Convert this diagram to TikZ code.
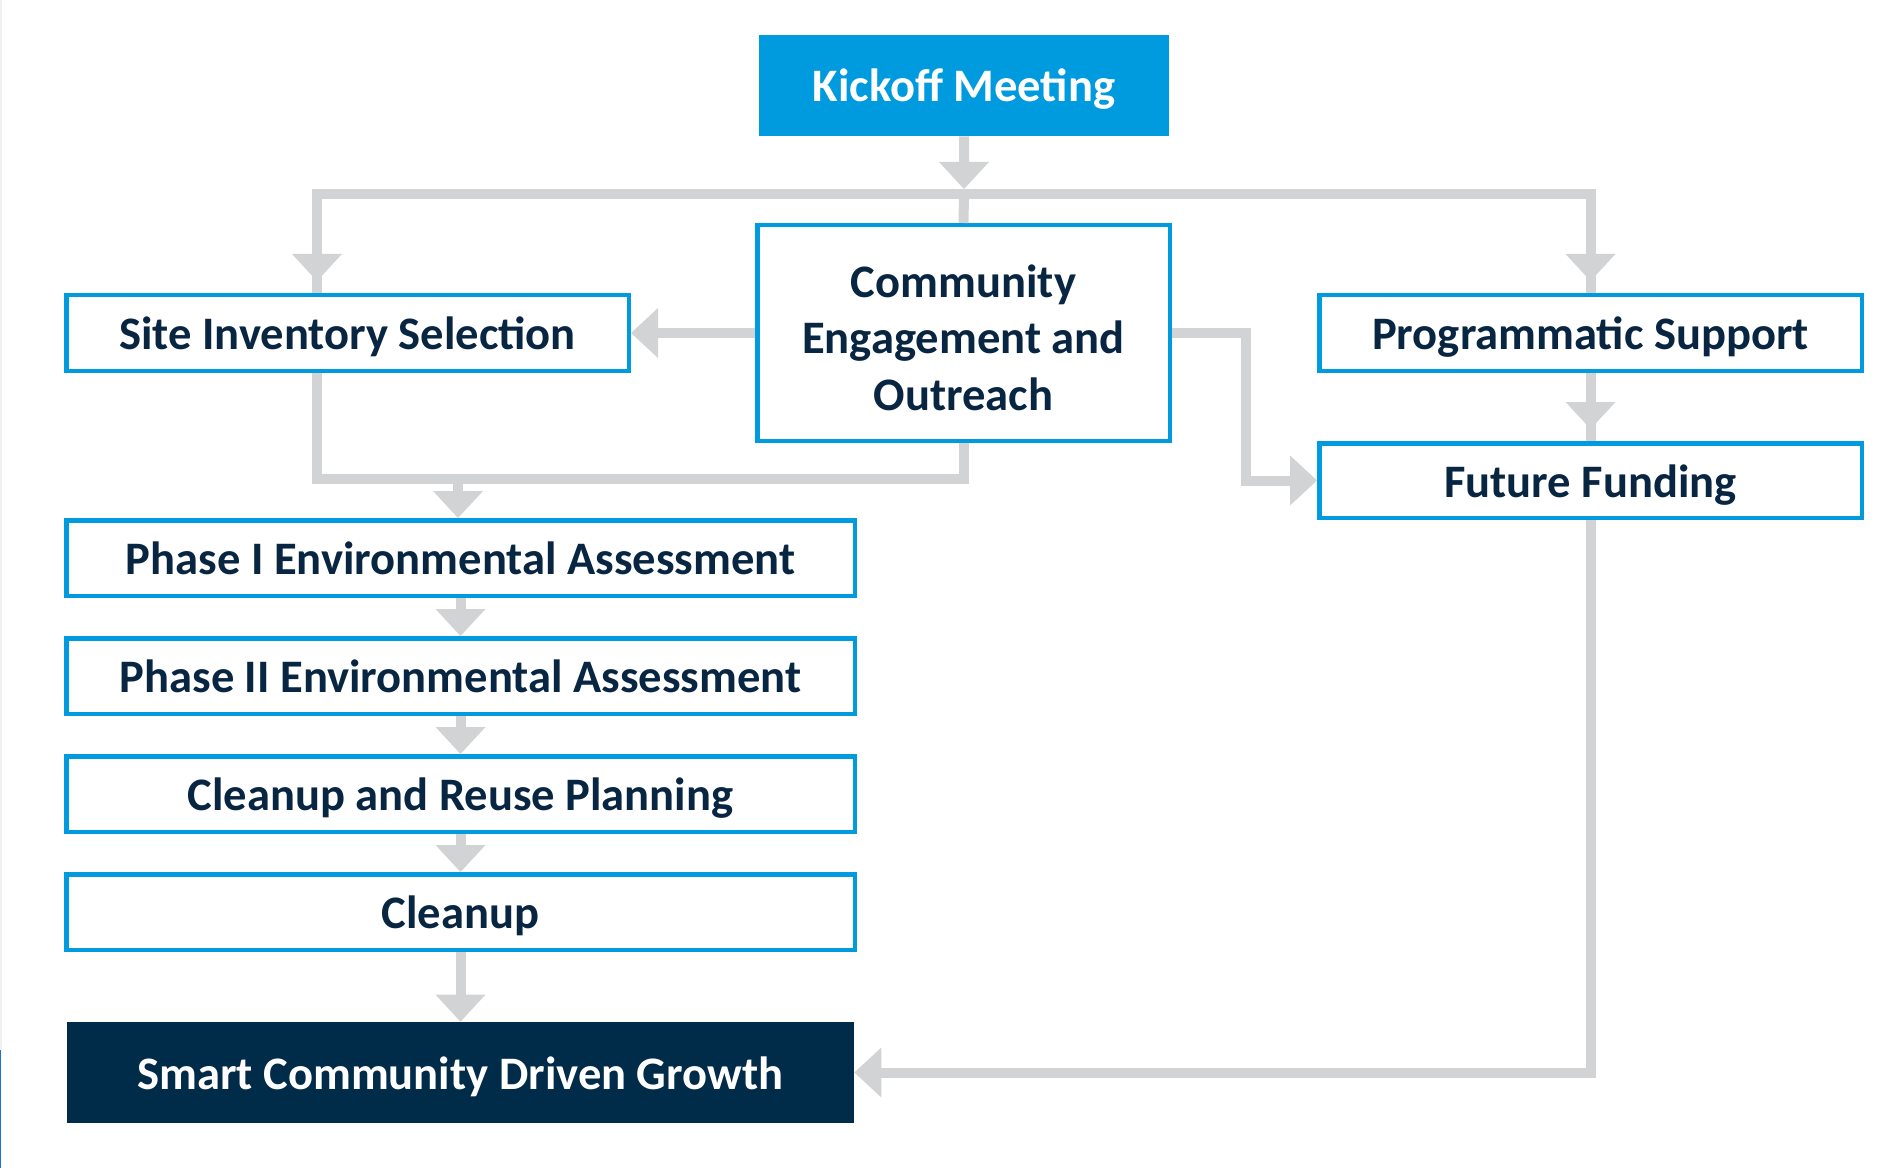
\documentclass[tikz,border=0pt]{standalone}
\usepackage{fontspec}
\setmainfont{Carlito}
\usepackage{tikz}
\usetikzlibrary{shapes,arrows.meta}
\definecolor{epablue}{RGB}{0,155,222}
\definecolor{epanavy}{RGB}{0,43,73}
\definecolor{epatext}{RGB}{8,38,66}
\definecolor{linegray}{RGB}{209,211,212}
\definecolor{edgeblue}{RGB}{35,110,220}
\tikzset{
  stepbox/.style={draw=epablue, line width=0.09cm, fill=white, text=epatext, rectangle, align=center, inner sep=0pt, text height=0.86cm, text depth=0.2cm, font=\fontsize{26.5}{32}\selectfont\bfseries},
  kickbox/.style={fill=epablue, text=white, rectangle, inner sep=0pt, text height=0.86cm, text depth=0.2cm, font=\fontsize{26.5}{32}\selectfont\bfseries},
  goalbox/.style={fill=epanavy, text=white, rectangle, inner sep=0pt, text height=0.86cm, text depth=0.2cm, font=\fontsize{26.5}{32}\selectfont\bfseries},
  link/.style={draw=linegray, line width=0.2cm},
  conn/.style={link, -{Triangle[width=1cm,length=0.54cm,line width=0pt]}},
  connstub/.style={link, -{Triangle[width=1cm,length=0.54cm,line width=0pt] Rectangle[width=0.2cm,length=0.24cm,line width=0pt]}}
}

\begin{document}
\begin{tikzpicture}
\useasboundingbox (0,0) rectangle (37.76,-23.36);
\fill[black!6] (0,0) rectangle (0.04,-21);
\fill[edgeblue] (0,-21) rectangle (0.03,-23.36);

\node[xshift=19.28cm,yshift=-1.71cm,kickbox,minimum width=8.2cm,minimum height=2.02cm] (kick) {Kickoff Meeting};
\node[xshift=19.27cm,yshift=-6.66cm,stepbox,text height=,text depth=,minimum width=8.25cm,minimum height=4.31cm] (comm) {\rule{0pt}{0.84cm}Community\\Engagement and\\Outreach};
\node[xshift=6.95cm,yshift=-6.66cm,stepbox,minimum width=11.25cm,minimum height=1.51cm] (site) {Site Inventory Selection};
\node[xshift=31.81cm,yshift=-6.66cm,stepbox,minimum width=10.85cm,minimum height=1.51cm] (prog) {Programmatic Support};
\node[xshift=31.81cm,yshift=-9.61cm,stepbox,minimum width=10.85cm,minimum height=1.49cm] (fund) {Future Funding};

\node[xshift=9.21cm,yshift=-11.16cm,stepbox,minimum width=15.77cm,minimum height=1.51cm] (ph1) {Phase I Environmental Assessment};
\node[xshift=9.21cm,yshift=-13.52cm,stepbox,minimum width=15.77cm,minimum height=1.51cm] (ph2) {Phase II Environmental Assessment};
\node[xshift=9.21cm,yshift=-15.88cm,stepbox,minimum width=15.77cm,minimum height=1.51cm] (plan) {Cleanup and Reuse Planning};
\node[xshift=9.21cm,yshift=-18.24cm,stepbox,minimum width=15.77cm,minimum height=1.51cm] (clean) {Cleanup};
\node[xshift=9.21cm,yshift=-21.45cm,goalbox,minimum width=15.74cm,minimum height=2.02cm] (smart) {Smart Community Driven Growth};

\coordinate (busT) at (19.28,-3.88);
\coordinate (busB) at (9.16,-9.58);

\draw[conn, shorten >=0.1cm] (kick) -- (busT);
\draw[connstub] (busT) -| ([xshift=-0.61cm]site.north);
\draw[connstub] (busT) -| (prog.north);
\draw[link] (busT) -- (comm.north);
\draw[conn] (comm) -- (site);
\draw[conn] (comm.east) -- ++(1.48,0) |- (fund.west);
\draw[connstub] (prog) -- (fund);
\draw[conn] (fund.south) |- (smart.east);
\draw[link] ([xshift=-0.61cm]site.south) |- (busB) -| (comm.south);
\draw[conn] (busB) -- (busB |- ph1.north);
\draw[conn] (ph1) -- (ph2);
\draw[conn] (ph2) -- (plan);
\draw[conn] (plan) -- (clean);
\draw[conn] (clean) -- (smart);
\end{tikzpicture}
\end{document}
